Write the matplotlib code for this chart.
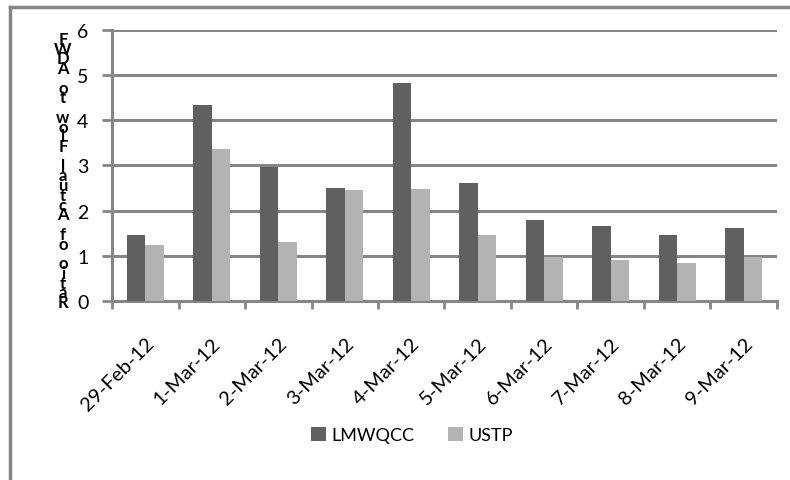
import matplotlib
matplotlib.use("Agg")
import matplotlib.pyplot as plt
from matplotlib.lines import Line2D
from matplotlib.transforms import ScaledTranslation
import numpy as np

plt.rcParams['font.family'] = ['Lato', 'DejaVu Sans']

dates = ['29-Feb-12', '1-Mar-12', '2-Mar-12', '3-Mar-12', '4-Mar-12',
         '5-Mar-12', '6-Mar-12', '7-Mar-12', '8-Mar-12', '9-Mar-12']
lmwqcc = [1.46, 4.33, 2.97, 2.49, 4.82, 2.60, 1.79, 1.65, 1.46, 1.61]
ustp = [1.23, 3.37, 1.31, 2.45, 2.48, 1.46, 0.97, 0.90, 0.85, 0.97]
ylabel = 'Ratio of Actual Flow to ADWF'

grey = '#868686'
dark = '#606060'
light = '#b3b3b3'

fig = plt.figure(figsize=(7.9, 4.81), dpi=100)
ax = fig.add_axes([0.1418, 0.3721, 0.8417, 0.5641])

x = np.arange(len(dates))
w = 0.28
ax.bar(x - w / 2, lmwqcc, w, color=dark, label='LMWQCC', zorder=3)
ax.bar(x + w / 2, ustp, w, color=light, label='USTP', zorder=3)

ax.set_xlim(-0.5, len(dates) - 0.5)
ax.set_ylim(0, 6)
ax.set_yticks(range(7))
ax.yaxis.grid(True, color=grey, linewidth=2.2, zorder=0)

# category ticks sit between the groups, labels at group centres
ax.set_xticks(np.arange(len(dates) + 1) - 0.5)
ax.set_xticklabels([])
ax.set_xticks(x, minor=True)
ax.set_xticklabels(dates, minor=True, rotation=45, ha='right', va='top',
                   rotation_mode='anchor', fontsize=14.5)
shift = ScaledTranslation(2 / 100, 0, fig.dpi_scale_trans)
for lbl in ax.get_xticklabels(minor=True):
    lbl.set_transform(lbl.get_transform() + shift)
ax.tick_params(axis='x', which='minor', length=0, pad=24)
ax.tick_params(axis='x', which='major', length=6, width=2, color=grey)
ax.tick_params(axis='y', length=7, width=2, color=grey, labelsize=14, pad=10)

for s in ['top', 'right']:
    ax.spines[s].set_visible(False)
for s in ['left', 'bottom']:
    ax.spines[s].set_color(grey)
    ax.spines[s].set_linewidth(2.2)

# stacked vertical axis title, letters run bottom to top
chars = list(ylabel[::-1])
ys = np.linspace(40, 303, len(chars))
for ch, yy in zip(chars, ys):
    fig.text(63 / 790, 1 - yy / 481, ch, ha='center', va='center',
             fontsize=12, fontweight='bold')

fig.legend(loc='center', bbox_to_anchor=(412 / 790, 1 - 436 / 481), ncol=2,
           frameon=False, fontsize=13, handlelength=0.8, handleheight=0.8,
           columnspacing=1.9, handletextpad=0.3)

# chart frame
fig.add_artist(Line2D([10 / 790, 10 / 790], [0, 1 - 8 / 481], color=grey,
                      linewidth=2.5, transform=fig.transFigure))
fig.add_artist(Line2D([10 / 790, 1], [1 - 8 / 481, 1 - 8 / 481], color=grey,
                      linewidth=2.5, transform=fig.transFigure))

fig.savefig('out.png', dpi=100)
